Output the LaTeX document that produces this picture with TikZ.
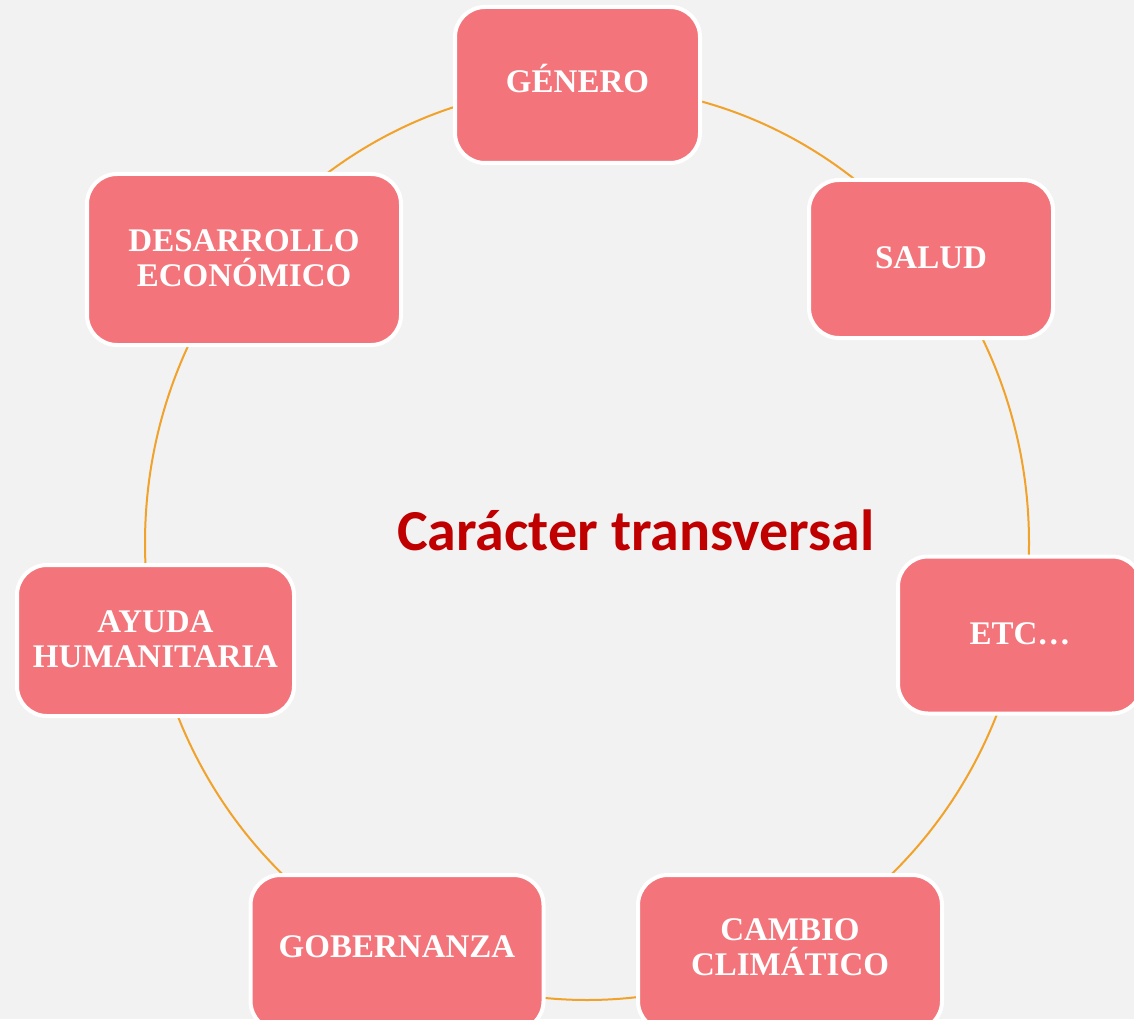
\documentclass[tikz,border=0pt]{standalone}
\usepackage{fontspec}
\newfontfamily\boxfont{Liberation Serif}
\newfontfamily\titlefont{Carlito}
\usepackage{tikz}
\definecolor{bgray}{RGB}{242,242,242}
\definecolor{rose}{RGB}{243,117,123}
\definecolor{ringorange}{RGB}{240,162,42}
\definecolor{titlered}{RGB}{192,0,0}
\tikzset{
  topic/.style={draw=white,line width=4pt,fill=rose,rounded corners=30pt,
    inner sep=0pt,align=center,text=white,text height=22pt,
    font=\boxfont\bfseries\fontsize{33}{35}\selectfont},
  twolines/.style={text height=57pt},
  ring/.style={draw=ringorange,line width=2pt},
  title/.style={text=titlered,font=\titlefont\bfseries\fontsize{58}{60}\selectfont}
}
\begin{document}
\begin{tikzpicture}[x=1pt,y=-1pt]
\useasboundingbox[fill=bgray] (0,0) rectangle (1134,1019);
\draw[ring] (587,543) ellipse [x radius=442,y radius=457];
\node[title] (centro) at (636,530) {Carácter transversal};
\node[topic,minimum width=245pt,minimum height=156pt,text depth=6pt] (genero) at (577.5,85) {GÉNERO};
\node[topic,minimum width=244pt,minimum height=158pt,text depth=4pt] (salud) at (931,259) {SALUD};
\node[topic,minimum width=244pt,minimum height=157pt,text depth=4pt] (etc) at (1020,635) {ETC…};
\node[topic,twolines,minimum width=304pt,minimum height=156pt,text depth=13pt] (cambio) at (790,953) {CAMBIO\\CLIMÁTICO};
\node[topic,minimum width=293pt,minimum height=156pt,text depth=14pt] (gobernanza) at (397,953) {GOBERNANZA};
\node[topic,twolines,minimum width=277pt,minimum height=151pt,text depth=4pt] (ayuda) at (155.5,640.5) {AYUDA\\HUMANITARIA};
\node[topic,twolines,minimum width=314pt,minimum height=171pt,text depth=4pt] (desarrollo) at (244,259.5) {DESARROLLO\\ECONÓMICO};
\end{tikzpicture}
\end{document}
